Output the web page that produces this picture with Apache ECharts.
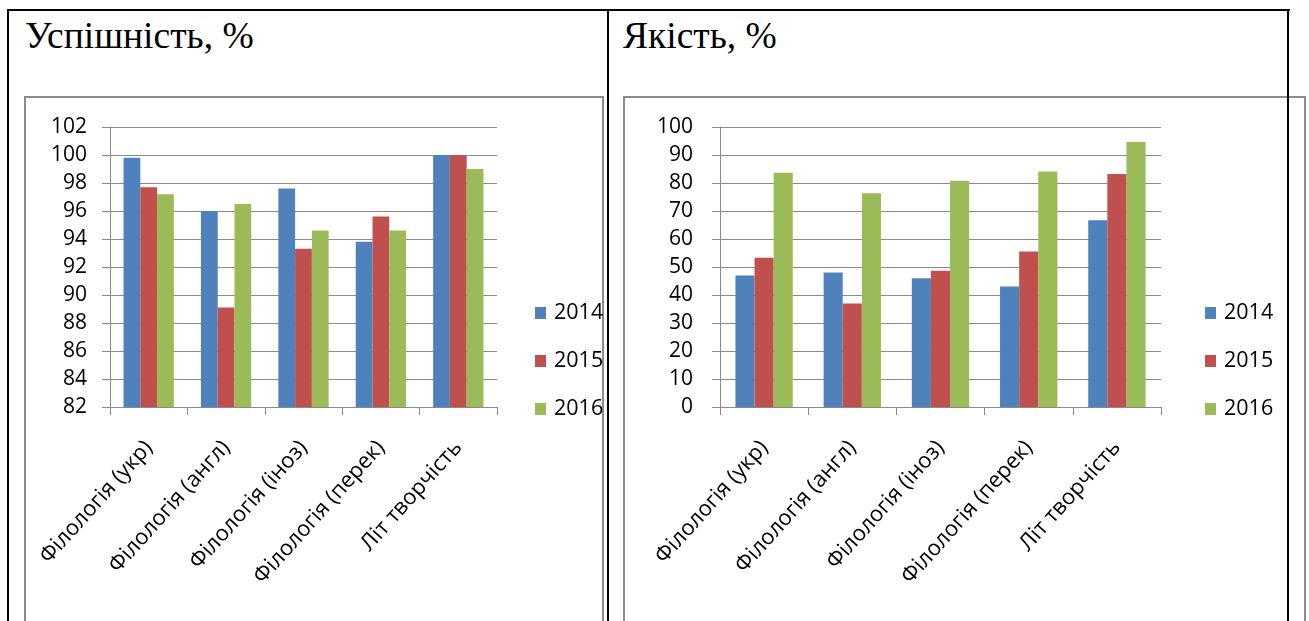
<!DOCTYPE html>
<html>
<head>
<meta charset="utf-8">
<script src="https://cdn.jsdelivr.net/npm/echarts@6/dist/echarts.min.js"></script>
<style>
  html, body { margin:0; padding:0; background:#fff; width:1309px; height:621px; overflow:hidden; }
  #chart { position:absolute; left:0; top:0; width:1309px; height:621px; }
  .ln { position:absolute; background:#000; }
  .box { position:absolute; border:2px solid #8c8c8c; box-sizing:border-box; }
  .ttl { position:absolute; font-family:"Liberation Serif", serif; font-size:37.5px; line-height:38px; color:#000; white-space:nowrap; }
</style>
</head>
<body>
<div class="box" style="left:24px; top:96px; width:580px; height:560px;"></div>
<div class="box" style="left:623px; top:96px; width:683px; height:560px;"></div>
<div class="ln" style="left:7px; top:9px; width:1283px; height:2px;"></div>
<div class="ln" style="left:7px; top:9px; width:2px; height:620px;"></div>
<div class="ln" style="left:607px; top:9px; width:2px; height:620px;"></div>
<div class="ln" style="left:1287px; top:9px; width:2px; height:620px;"></div>
<div class="ttl" style="left:25px; top:17px;">Успішність, %</div>
<div class="ttl" style="left:623px; top:17px;">Якість, %</div>
<div id="chart"></div>
<script>
const categories = ['Філологія (укр)', 'Філологія (англ)', 'Філологія (іноз)', 'Філологія (перек)', 'Літ творчість'];
const years = ['2014', '2015', '2016'];
// Успішність, %
const success2014 = [99.8, 96.0, 97.6, 93.8, 100];
const success2015 = [97.7, 89.1, 93.3, 95.6, 100];
const success2016 = [97.2, 96.5, 94.6, 94.6, 99.0];
// Якість, %
const quality2014 = [47, 48, 46, 43, 66.7];
const quality2015 = [53.3, 37, 48.7, 55.5, 83.2];
const quality2016 = [83.7, 76.3, 80.8, 84.1, 94.6];

const colors = ['#4F81BD', '#C0504D', '#9BBB59'];
const gridColor = '#8a8a8a';
const font = 'Open Sans';

function xAxis(gridIndex) {
  return {
    type: 'category', gridIndex, data: categories,
    axisLine: { lineStyle: { color: gridColor, width: 1 } },
    axisTick: { show: true, length: 8, lineStyle: { color: gridColor } },
    axisLabel: { rotate: 48, fontFamily: font, fontSize: 22, color: '#000', margin: 37, interval: 0 }
  };
}
function yAxis(gridIndex, min, max, interval, margin) {
  return {
    type: 'value', gridIndex, min, max, interval,
    axisLine: { show: true, lineStyle: { color: gridColor, width: 1 } },
    axisTick: { show: true, length: 8, lineStyle: { color: gridColor } },
    splitLine: { show: true, lineStyle: { color: gridColor, width: 1 } },
    axisLabel: { fontFamily: font, fontSize: 21, color: '#000', margin }
  };
}
function bars(name, data, idx, axisIdx) {
  return {
    name, type: 'bar', data, xAxisIndex: axisIdx, yAxisIndex: axisIdx,
    itemStyle: { color: colors[idx] },
    barGap: '0%', barCategoryGap: '35%', animation: false
  };
}
function legend(left, top) {
  return {
    orient: 'vertical', left, top, data: years, padding: 0,
    icon: 'rect', itemWidth: 11, itemHeight: 12, itemGap: 24,
    textStyle: { fontFamily: font, fontSize: 21.5, lineHeight: 24, color: '#000', padding: [0, 0, 0, 3] },
    selectedMode: false
  };
}

const chart = echarts.init(document.getElementById('chart'), null, { renderer: 'canvas' });
chart.setOption({
  animation: false,
  legend: [legend(535, 301), legend(1205, 301)],
  grid: [
    { left: 110, top: 127, width: 387, height: 280 },
    { left: 720, top: 127, width: 441, height: 280 }
  ],
  xAxis: [xAxis(0), xAxis(1)],
  yAxis: [yAxis(0, 82, 102, 2, 23), yAxis(1, 0, 100, 10, 27)],
  series: [
    bars('2014', success2014, 0, 0),
    bars('2015', success2015, 1, 0),
    bars('2016', success2016, 2, 0),
    bars('2014', quality2014, 0, 1),
    bars('2015', quality2015, 1, 1),
    bars('2016', quality2016, 2, 1)
  ]
});
</script>
</body>
</html>
